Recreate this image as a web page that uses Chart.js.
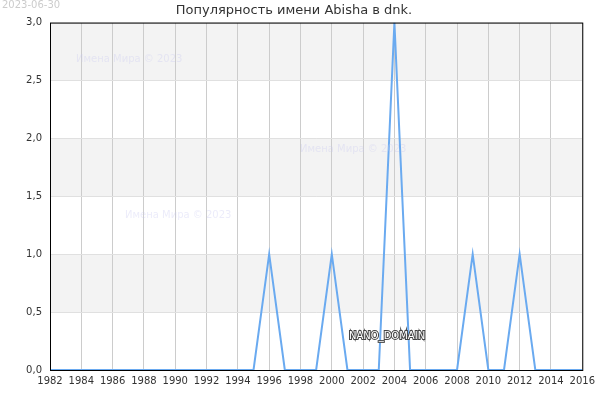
<!DOCTYPE html>
<html><head><meta charset="utf-8">
<script src="https://cdn.jsdelivr.net/npm/chart.js@4"></script>
<style>body{margin:0;background:#fff}#w{position:relative;width:600px;height:400px}</style>
</head><body><div id="w"><canvas id="c" width="600" height="400"></canvas></div>
<script>
/* ===== DATA ===== */
const years=[];
for(let y=1982;y<=2016;y++) years.push(y);
const peakYears=[1996,2000,2004,2009,2012];
const peakValues=[1,1,3,1,1];
const values=years.map(y=>{const i=peakYears.indexOf(y);return i<0?0:peakValues[i];});
const yTicks=[0,0.5,1,1.5,2,2.5,3];

/* ===== PLUGINS ===== */
const bands={id:"bands",beforeDraw(ch){
const {ctx,chartArea:a,scales:{y}}=ch;
ctx.save();ctx.fillStyle="#f3f3f3";
for(let v=0.5;v<3;v+=1){
const t=y.getPixelForValue(v+0.5),b=y.getPixelForValue(v);
ctx.fillRect(a.left,t,a.right-a.left,b-t);
}
ctx.restore();
}};
const extras={id:"extras",afterDraw(ch){
const {ctx,chartArea:a}=ch;
ctx.save();
ctx.strokeStyle="#000";ctx.lineWidth=1;
ctx.strokeRect(a.left+0.5,a.top+0.5,a.right-a.left,a.bottom-a.top);
ctx.font="10px 'DejaVu Sans'";ctx.fillStyle="#ccc";ctx.textBaseline="top";
ctx.fillText("2023-06-30",2,0);
ctx.fillStyle="rgba(200,200,240,0.35)";ctx.font="10px 'DejaVu Sans'";
ctx.fillText("Имена Мира © 2023",76,54);
ctx.fillText("Имена Мира © 2023",300,144);
ctx.fillText("Имена Мира © 2023",125,210);
ctx.lineWidth=2;ctx.strokeStyle="#444";ctx.strokeText("NANO_DOMAIN",349,331);
ctx.fillStyle="#fff";ctx.fillText("NANO_DOMAIN",349,331);
ctx.restore();
}};

new Chart(document.getElementById("c"),{
type:"line",
data:{datasets:[{data:years.map((y,i)=>({x:y,y:values[i]})),borderColor:"#6aaaf0",borderWidth:2,pointRadius:0,tension:0}]},
options:{responsive:false,animation:false,
layout:{padding:{left:0,right:12,top:0,bottom:0}},
plugins:{legend:{display:false},tooltip:{enabled:false},
title:{display:true,text:"Популярность имени Abisha в dnk.",color:"#333",font:{family:"DejaVu Sans",size:13,weight:"normal"},padding:{top:3,bottom:4}}},
scales:{
x:{type:"linear",min:1982,max:2016,afterFit:ax=>{ax.height=30;},
ticks:{stepSize:2,color:"#333",font:{family:"DejaVu Sans",size:10},maxRotation:0,callback:v=>String(v),padding:5},
grid:{color:"#ccc",drawTicks:false},border:{display:false}},
y:{min:0,max:3,afterFit:ax=>{ax.width=50;},afterBuildTicks:ax=>{ax.ticks=yTicks.map(v=>({value:v}));},
ticks:{color:"#333",font:{family:"DejaVu Sans",size:10},callback:v=>v.toFixed(1).replace(".",","),padding:8},
grid:{color:"#e0e0e0",drawTicks:false},border:{display:false}}
}},
plugins:[bands,extras]
});
</script></body></html>
